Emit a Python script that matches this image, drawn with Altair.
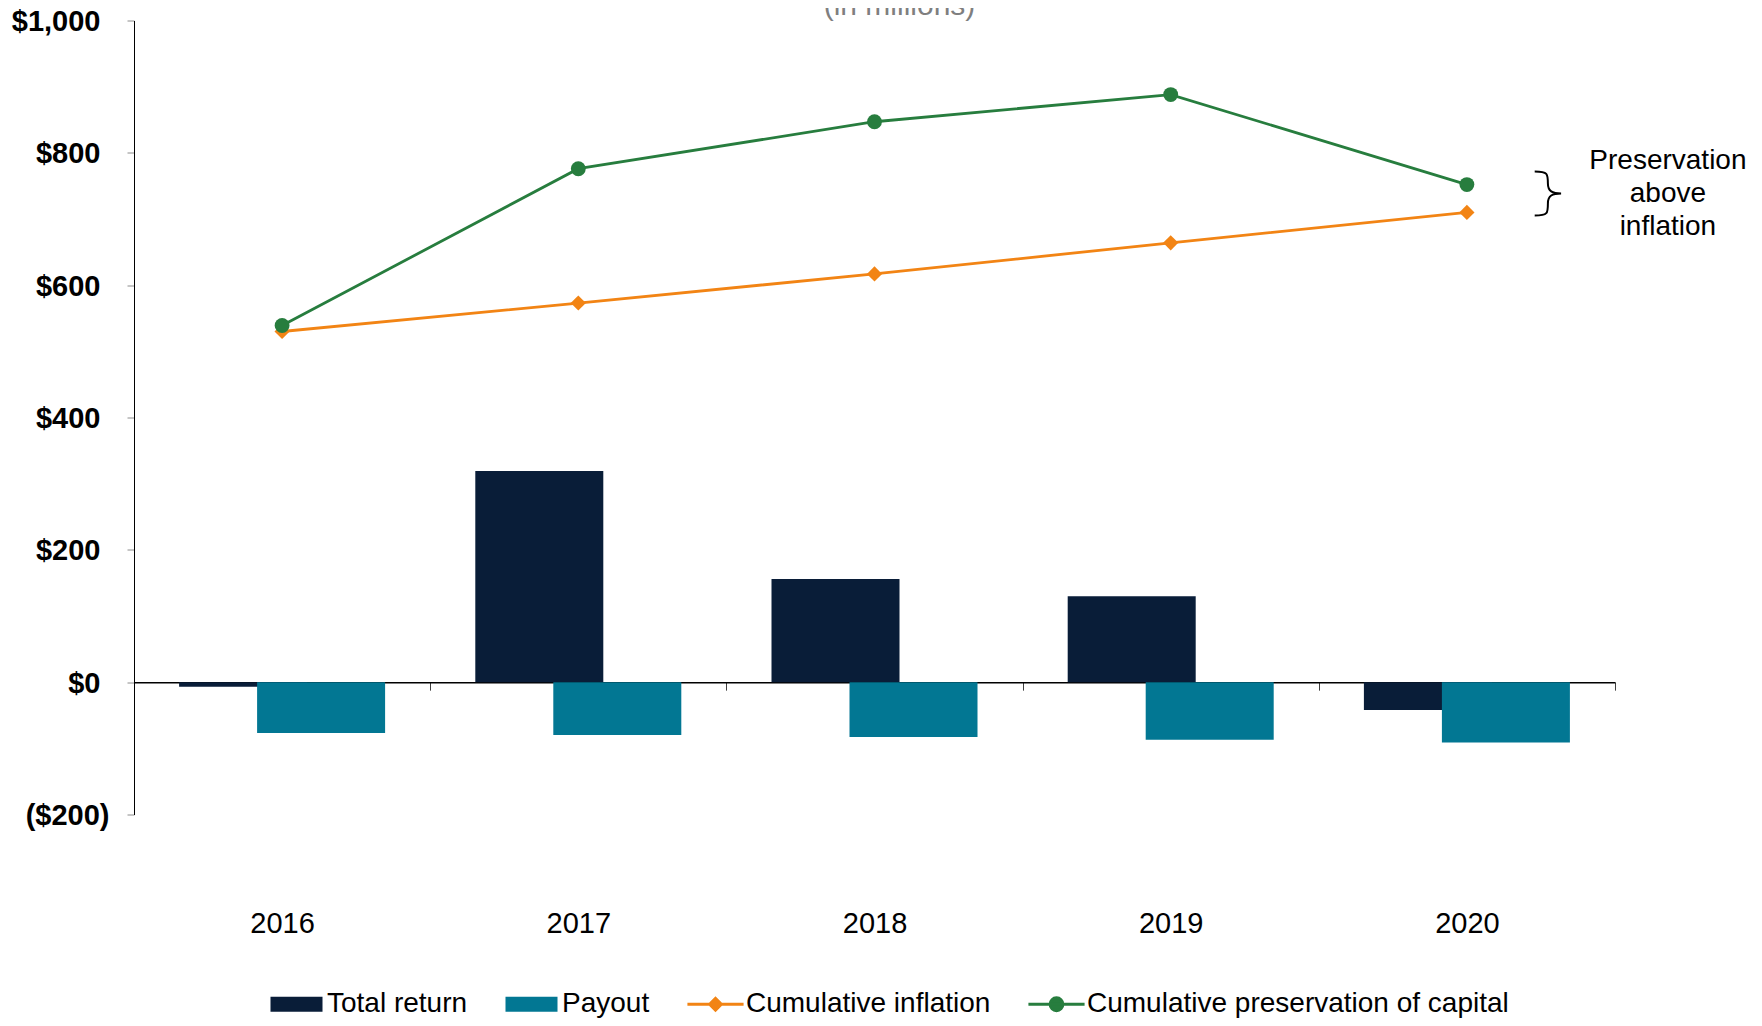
import altair as alt
import pandas as pd

# ---------------- data ----------------
years = ["2016", "2017", "2018", "2019", "2020"]
total_return = [-7, 319, 156, 130, -42]
payout = [-77, -80, -83, -87, -91]
cum_inflation = [530, 573, 617, 664, 710]
cum_preservation = [539, 776, 847, 888, 752]

series_names = ["Total return", "Payout", "Cumulative inflation",
                "Cumulative preservation of capital"]
series_colors = ["#091D38", "#027793", "#F28414", "#277D3E"]
y_ticks = [-200, 0, 200, 400, 600, 800, 1000]
title_text = "(in millions)"
annotation_lines = ["Preservation", "above", "inflation"]

FONT = "Liberation Sans"
NAVY, TEAL, ORANGE, GREEN = series_colors

# ---------------- tables ----------------
tr_df = pd.DataFrame({"year": years, "value": total_return})
po_df = pd.DataFrame({"year": years, "value": payout})
inf_df = pd.DataFrame({"year": years, "value": cum_inflation})
pres_df = pd.DataFrame({"year": years, "value": cum_preservation})
legend_df = pd.DataFrame({"series": series_names,
                          "year": [years[0]] * len(series_names),
                          "value": [None] * len(series_names)})
anno_df = pd.DataFrame({"year": [years[-1]],
                        "value": [(cum_preservation[-1] + cum_inflation[-1]) / 2]})

# ---------------- encodings ----------------
x_enc = alt.X(
    "year:N",
    scale=alt.Scale(domain=years, paddingInner=0, paddingOuter=0),
    axis=alt.Axis(title=None, orient="bottom", offset=-132.33, tickBand="extent",
                  domainColor="#000000", domainWidth=1.5, tickColor="#404040",
                  tickSize=8, tickWidth=1, labelFont=FONT, labelFontSize=29,
                  labelColor="#000000", labelPadding=219, labelAngle=0, grid=False),
)
y_enc = alt.Y(
    "value:Q",
    scale=alt.Scale(domain=[-200, 1000], nice=False, zero=False),
    axis=alt.Axis(title=None, values=y_ticks, grid=False, domainColor="#000000",
                  domainWidth=1, tickColor="#8C8C8C", tickSize=7, labelFont=FONT,
                  labelFontSize=29, labelFontWeight="bold", labelColor="#000000",
                  labelOffset=1,
                  labelPadding={"condition": {"test": "datum.value < 0", "value": 18},
                                "value": 27},
                  labelExpr="datum.value < 0 ? '($' + format(-datum.value, ',') + ')' : '$' + format(datum.value, ',')"),
)

# ---------------- layers ----------------
bars_tr = alt.Chart(tr_df).mark_bar(color=NAVY, width=128, xOffset=-39).encode(x=x_enc, y=y_enc)
bars_po = alt.Chart(po_df).mark_bar(color=TEAL, width=128, xOffset=39).encode(x=x_enc, y=y_enc)

line_inf = alt.Chart(inf_df).mark_line(color=ORANGE, strokeWidth=2.8).encode(x=x_enc, y=y_enc)
pts_inf = alt.Chart(inf_df).mark_point(shape="diamond", filled=True, size=230,
                                       color=ORANGE, opacity=1).encode(x=x_enc, y=y_enc)
line_pres = alt.Chart(pres_df).mark_line(color=GREEN, strokeWidth=2.8).encode(x=x_enc, y=y_enc)
pts_pres = alt.Chart(pres_df).mark_point(shape="circle", filled=True, size=220,
                                         color=GREEN, opacity=1).encode(x=x_enc, y=y_enc)

rect_path = "M-1,-0.29L1,-0.29L1,0.29L-1,0.29Z"
diamond_path = "M-1.08,0L1.08,0M0,-0.23L0.23,0L0,0.23L-0.23,0Z"
circle_path = ("M-1.08,0L1.08,0M0.25,0C0.25,0.138,0.138,0.25,0,0.25C-0.138,0.25,-0.25,0.138,-0.25,0"
               "C-0.25,-0.138,-0.138,-0.25,0,-0.25C0.138,-0.25,0.25,-0.138,0.25,0Z")

legend_def = alt.Legend(
    title=None, orient="none", legendX=135, legendY=956, direction="horizontal",
    columns=4, symbolSize=2704, symbolStrokeWidth=2.8, symbolFillColor="transparent",
    symbolStrokeColor="transparent", symbolOpacity=1, labelFont=FONT, labelFontSize=28,
    labelColor="#000000", labelLimit=700, labelOffset=3, columnPadding=31,
)

legend_layer = alt.Chart(legend_df).mark_point(filled=True, opacity=1).encode(
    x=x_enc, y=y_enc,
    fill=alt.Fill("series:N", scale=alt.Scale(domain=series_names, range=series_colors),
                  legend=legend_def),
    stroke=alt.Stroke("series:N",
                      scale=alt.Scale(domain=series_names,
                                      range=["transparent", "transparent", ORANGE, GREEN]),
                      legend=legend_def),
    shape=alt.Shape("series:N",
                    scale=alt.Scale(domain=series_names,
                                    range=[rect_path, rect_path, diamond_path, circle_path]),
                    legend=legend_def),
)

brace_path = ("M-0.6,-1C0,-1,0,-0.9,0,-0.45C0,-0.1,0.2,0,0.6,0"
              "C0.2,0,0,0.1,0,0.45C0,0.9,0,1,-0.6,1")
brace = alt.Chart(anno_df).mark_point(shape=brace_path, filled=False, stroke="#000000",
                                      strokeWidth=2, size=1936, opacity=1,
                                      xOffset=81, yOffset=-5).encode(x=x_enc, y=y_enc)
anno_text = alt.Chart(anno_df).mark_text(
    text="\n".join(annotation_lines), lineBreak="\n", font=FONT, fontSize=28,
    color="#000000", align="center", baseline="middle", lineHeight=33,
    xOffset=201, yOffset=-37,
).encode(x=x_enc, y=y_enc)

chart = alt.layer(
    bars_tr, bars_po, line_inf, pts_inf, line_pres, pts_pres, legend_layer, brace, anno_text
).properties(
    width=1481, height=794,
    autosize=alt.AutoSizeParams(type="none"),
    padding={"left": 126, "top": 12.5, "right": 136, "bottom": 203},
    title=alt.Title(title_text, font=FONT, fontSize=30, fontWeight="normal",
                    color="#7F7F7F", anchor="middle", dx=25, offset=-13),
).configure_view(strokeWidth=0)

chart.save("out.html", embed_options={"renderer": "svg", "actions": False})
